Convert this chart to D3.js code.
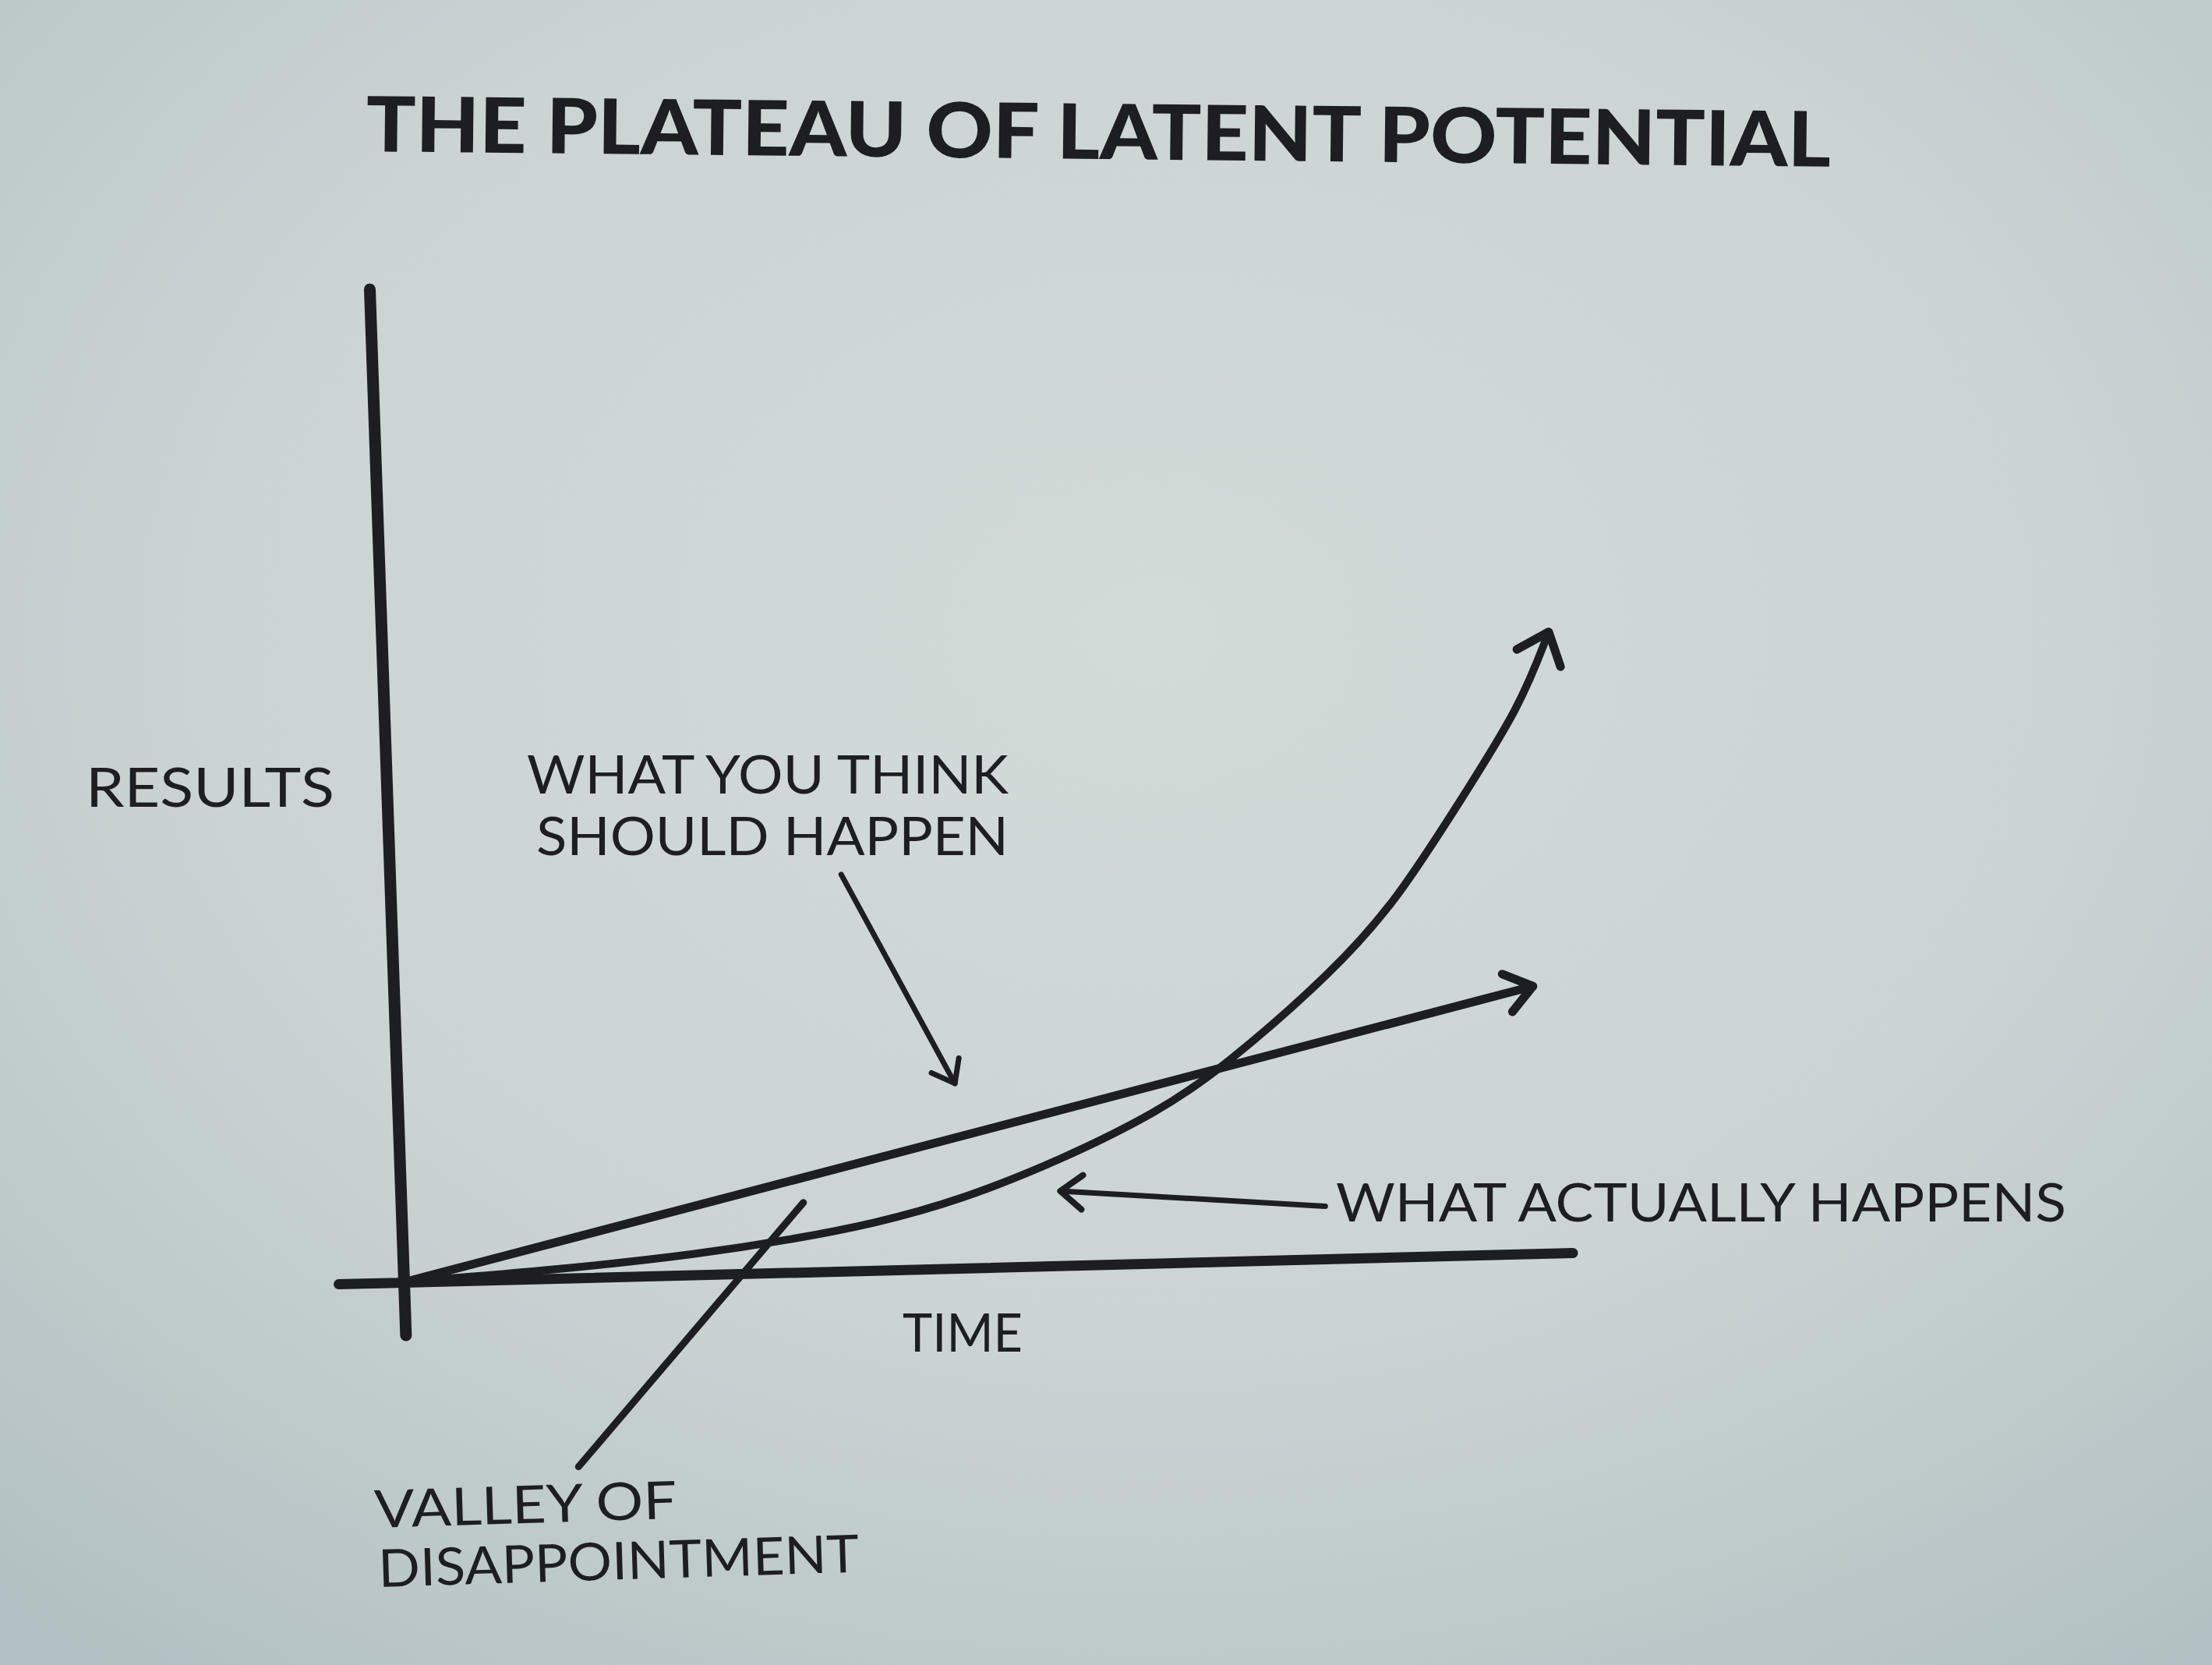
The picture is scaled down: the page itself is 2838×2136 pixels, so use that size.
<!DOCTYPE html>
<html>
<head>
<meta charset="utf-8">
<script src="https://cdn.jsdelivr.net/npm/d3@7"></script>
<style>
  html, body { margin: 0; padding: 0; background: #cdd4d3; }
  svg { display: block; }
</style>
</head>
<body>
<svg id="chart" width="2838" height="2136"></svg>
<script>
// ---------------- DATA ----------------
const chartTitle = "THE PLATEAU OF LATENT POTENTIAL";
const xAxisLabel = "TIME";
const yAxisLabel = "RESULTS";
const timeDomain = [0, 10];
const resultsDomain = [0, 10];
// axis extents (axes overshoot the origin slightly, as drawn)
const xAxisExtent = [-0.56, 10];
const yAxisExtent = [-0.53, 10];
// "What you think should happen": straight line (time, results)
const expectedLine = [[0, 0], [9.74, 2.69]];
// "What actually happens": slow start then steep rise (time, results)
const actualCurve = [[0, 0], [1.37, 0.09], [2.55, 0.21], [3.32, 0.33], [4.04, 0.47], [4.77, 0.68],
  [5.65, 1.06], [6.5, 1.52], [7.07, 1.95], [8.05, 2.9], [8.61, 3.6], [9.2, 4.62], [9.71, 5.5], [9.98, 6.25]];
// pointer lines for the annotations (time, results)
const thinkPointer = [[3.86, 3.99], [4.77, 1.86]];
const actualPointer = [[7.90, 0.53], [5.64, 0.75]];
const valleyPointer = [[1.44, -1.90], [3.44, 0.70]];
const thinkLabel = ["WHAT YOU THINK", "SHOULD HAPPEN"];
const actualLabel = ["WHAT ACTUALLY HAPPENS"];
const valleyLabel = ["VALLEY OF", "DISAPPOINTMENT"];

// ---------------- LAYOUT ----------------
const W = 2838, H = 2136;
const ink = "#1d1e21";
const svg = d3.select("#chart");
const defs = svg.append("defs");

const bg = defs.append("radialGradient").attr("id", "paper")
  .attr("cx", "52%").attr("cy", "38%").attr("r", "78%");
bg.append("stop").attr("offset", "0%").attr("stop-color", "#d3dbd9");
bg.append("stop").attr("offset", "55%").attr("stop-color", "#cbd4d3");
bg.append("stop").attr("offset", "100%").attr("stop-color", "#b3c0c3");
svg.append("rect").attr("width", W).attr("height", H).attr("fill", "url(#paper)");

function makeMarker(id, len, half, sw) {
  defs.append("marker").attr("id", id)
    .attr("markerUnits", "userSpaceOnUse")
    .attr("viewBox", "-80 -80 160 160")
    .attr("markerWidth", 160).attr("markerHeight", 160)
    .attr("refX", 0).attr("refY", 0)
    .attr("orient", "auto")
    .append("path")
    .attr("d", `M${-len},${-half} L0,0 L${-len},${half}`)
    .attr("fill", "none").attr("stroke", ink)
    .attr("stroke-width", sw)
    .attr("stroke-linecap", "round").attr("stroke-linejoin", "round");
}
makeMarker("arrowCurve", 36, 30, 11);
makeMarker("arrowLine", 34, 25, 11);
makeMarker("arrowActual", 28, 22, 8);
makeMarker("arrowThink", 26, 20, 7);

// The hand-drawn frame is slightly skewed in the photo: origin + axis directions
const plot = svg.append("g")
  .attr("transform", "matrix(0.99968,-0.02533,0.03452,0.9994,518,1645)");

const x = d3.scaleLinear().domain(timeDomain).range([0, 1500]);
const y = d3.scaleLinear().domain(resultsDomain).range([0, -1275]);

const xAxisScale = d3.scaleLinear().domain(xAxisExtent).range(xAxisExtent.map(x));
const yAxisScale = d3.scaleLinear().domain(yAxisExtent).range(yAxisExtent.map(y));

const gx = plot.append("g").call(d3.axisBottom(xAxisScale).tickValues([]).tickSizeOuter(0));
gx.select(".domain").attr("stroke", ink).attr("stroke-width", 13).attr("stroke-linecap", "round");
const gy = plot.append("g").call(d3.axisLeft(yAxisScale).tickValues([]).tickSizeOuter(0));
gy.select(".domain").attr("stroke", ink).attr("stroke-width", 15).attr("stroke-linecap", "round");

const straight = d3.line().x(d => x(d[0])).y(d => y(d[1]));
const smooth = d3.line().x(d => x(d[0])).y(d => y(d[1])).curve(d3.curveBasis);

plot.append("path").datum(expectedLine).attr("d", straight)
  .attr("fill", "none").attr("stroke", ink).attr("stroke-width", 11)
  .attr("stroke-linecap", "round").attr("marker-end", "url(#arrowLine)");

plot.append("path").datum(actualCurve).attr("d", smooth)
  .attr("fill", "none").attr("stroke", ink).attr("stroke-width", 10)
  .attr("stroke-linecap", "round").attr("marker-end", "url(#arrowCurve)");

plot.append("path").datum(thinkPointer).attr("d", straight)
  .attr("fill", "none").attr("stroke", ink).attr("stroke-width", 7)
  .attr("stroke-linecap", "round").attr("marker-end", "url(#arrowThink)");

plot.append("path").datum(actualPointer).attr("d", straight)
  .attr("fill", "none").attr("stroke", ink).attr("stroke-width", 7)
  .attr("stroke-linecap", "round").attr("marker-end", "url(#arrowActual)");

plot.append("path").datum(valleyPointer).attr("d", straight)
  .attr("fill", "none").attr("stroke", ink).attr("stroke-width", 9)
  .attr("stroke-linecap", "round");

// ---------------- TEXT ----------------
const labelFont = "Lato, 'Open Sans', sans-serif";
function label(txt, px, py, len, opts = {}) {
  const t = svg.append("text")
    .attr("x", px).attr("y", py)
    .attr("font-family", opts.family || labelFont)
    .attr("font-size", opts.size || 67)
    .attr("font-weight", opts.weight || 400)
    .attr("fill", ink)
    .attr("text-anchor", opts.anchor || "start")
    .attr("textLength", len)
    .attr("lengthAdjust", "spacingAndGlyphs")
    .text(txt);
  if (opts.rotate) t.attr("transform", `rotate(${opts.rotate},${px},${py})`);
  return t;
}

label(chartTitle, 1409, 204, 1879, { anchor: "middle", size: 98, weight: 900, rotate: 0.6,
  family: "Lato, Inter, sans-serif" });
label(yAxisLabel, 110, 1035, 319, { size: 69 });
label(thinkLabel[0], 676, 1018, 618);
label(thinkLabel[1], 688, 1097, 606);
label(actualLabel[0], 1714, 1567, 937);
label(xAxisLabel, 1158, 1734, 154);
label(valleyLabel[0], 481, 1960, 388, { rotate: -1.8 });
label(valleyLabel[1], 486, 2036, 617, { rotate: -1.8 });
</script>
</body>
</html>
